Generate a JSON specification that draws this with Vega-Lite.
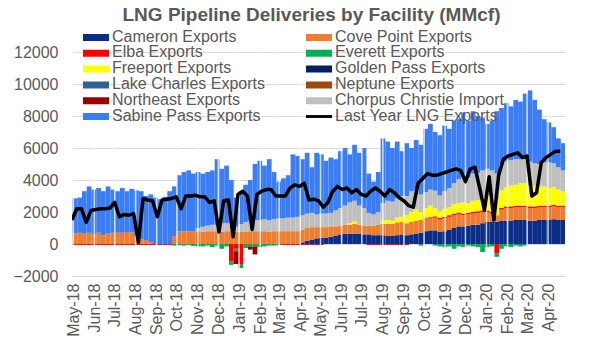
{
  "$schema": "https://vega.github.io/schema/vega-lite/v6.json",
  "autosize": "none",
  "width": 493,
  "height": 224,
  "padding": {"left": 72, "top": 52, "right": 31, "bottom": 74},
  "background": "white",
  "title": {"text": "LNG Pipeline Deliveries by Facility (MMcf)", "font": "Liberation Sans", "fontSize": 19, "fontWeight": "bold", "color": "#595959", "anchor": "middle", "dx": -7, "offset": 5.5},
  "config": {
    "view": {"stroke": null},
    "font": "Liberation Sans",
    "legend": {"rowPadding": -1.2},
    "axis": {"labelFont": "Liberation Sans", "labelFontSize": 16, "labelColor": "#595959", "ticks": false, "domain": false, "labelOverlap": false},
    "axisX": {"labelAngle": 270, "labelPadding": 7, "grid": false, "labelFlush": false, "labelOverlap": false},
    "axisY": {"grid": true, "gridColor": "#D9D9D9", "gridWidth": 1, "labelPadding": 14, "labelOverlap": false, "labelFlush": false}
  },
  "data": {"values": [
{"date":"2018-04-29","Cameron Exports":0,"Cove Point Exports":680,"Elba Exports":-60,"Everett Exports":0,"Freeport Exports":0,"Northeast Exports":0,"Chorpus Christie Import":0,"Sabine Pass Exports":2170,"Last Year LNG Exports":1500},
{"date":"2018-05-06","Cameron Exports":0,"Cove Point Exports":700,"Elba Exports":-60,"Everett Exports":0,"Freeport Exports":0,"Northeast Exports":0,"Chorpus Christie Import":0,"Sabine Pass Exports":2200,"Last Year LNG Exports":2200},
{"date":"2018-05-13","Cameron Exports":0,"Cove Point Exports":650,"Elba Exports":-60,"Everett Exports":0,"Freeport Exports":0,"Northeast Exports":0,"Chorpus Christie Import":0,"Sabine Pass Exports":2650,"Last Year LNG Exports":2200},
{"date":"2018-05-20","Cameron Exports":0,"Cove Point Exports":700,"Elba Exports":-60,"Everett Exports":0,"Freeport Exports":0,"Northeast Exports":0,"Chorpus Christie Import":0,"Sabine Pass Exports":2900,"Last Year LNG Exports":1350},
{"date":"2018-05-27","Cameron Exports":0,"Cove Point Exports":600,"Elba Exports":-60,"Everett Exports":0,"Freeport Exports":0,"Northeast Exports":0,"Chorpus Christie Import":0,"Sabine Pass Exports":2800,"Last Year LNG Exports":2100},
{"date":"2018-06-03","Cameron Exports":0,"Cove Point Exports":700,"Elba Exports":-60,"Everett Exports":0,"Freeport Exports":0,"Northeast Exports":0,"Chorpus Christie Import":0,"Sabine Pass Exports":2800,"Last Year LNG Exports":2150},
{"date":"2018-06-10","Cameron Exports":0,"Cove Point Exports":550,"Elba Exports":-60,"Everett Exports":0,"Freeport Exports":0,"Northeast Exports":0,"Chorpus Christie Import":0,"Sabine Pass Exports":2750,"Last Year LNG Exports":2200},
{"date":"2018-06-17","Cameron Exports":0,"Cove Point Exports":650,"Elba Exports":-60,"Everett Exports":0,"Freeport Exports":0,"Northeast Exports":0,"Chorpus Christie Import":0,"Sabine Pass Exports":2950,"Last Year LNG Exports":2200},
{"date":"2018-06-24","Cameron Exports":0,"Cove Point Exports":700,"Elba Exports":-60,"Everett Exports":0,"Freeport Exports":0,"Northeast Exports":0,"Chorpus Christie Import":0,"Sabine Pass Exports":2700,"Last Year LNG Exports":2250},
{"date":"2018-07-01","Cameron Exports":0,"Cove Point Exports":700,"Elba Exports":-60,"Everett Exports":0,"Freeport Exports":0,"Northeast Exports":0,"Chorpus Christie Import":0,"Sabine Pass Exports":2600,"Last Year LNG Exports":2600},
{"date":"2018-07-08","Cameron Exports":0,"Cove Point Exports":700,"Elba Exports":-60,"Everett Exports":0,"Freeport Exports":0,"Northeast Exports":0,"Chorpus Christie Import":0,"Sabine Pass Exports":2800,"Last Year LNG Exports":1700},
{"date":"2018-07-15","Cameron Exports":0,"Cove Point Exports":750,"Elba Exports":-60,"Everett Exports":0,"Freeport Exports":0,"Northeast Exports":0,"Chorpus Christie Import":0,"Sabine Pass Exports":2550,"Last Year LNG Exports":1850},
{"date":"2018-07-22","Cameron Exports":0,"Cove Point Exports":720,"Elba Exports":-60,"Everett Exports":0,"Freeport Exports":0,"Northeast Exports":0,"Chorpus Christie Import":0,"Sabine Pass Exports":2730,"Last Year LNG Exports":1800},
{"date":"2018-07-29","Cameron Exports":0,"Cove Point Exports":500,"Elba Exports":-60,"Everett Exports":0,"Freeport Exports":0,"Northeast Exports":0,"Chorpus Christie Import":0,"Sabine Pass Exports":2850,"Last Year LNG Exports":1900},
{"date":"2018-08-05","Cameron Exports":0,"Cove Point Exports":300,"Elba Exports":-60,"Everett Exports":0,"Freeport Exports":0,"Northeast Exports":0,"Chorpus Christie Import":0,"Sabine Pass Exports":3000,"Last Year LNG Exports":100},
{"date":"2018-08-12","Cameron Exports":0,"Cove Point Exports":250,"Elba Exports":-60,"Everett Exports":0,"Freeport Exports":0,"Northeast Exports":0,"Chorpus Christie Import":0,"Sabine Pass Exports":2750,"Last Year LNG Exports":2850},
{"date":"2018-08-19","Cameron Exports":0,"Cove Point Exports":100,"Elba Exports":-60,"Everett Exports":0,"Freeport Exports":0,"Northeast Exports":0,"Chorpus Christie Import":0,"Sabine Pass Exports":3000,"Last Year LNG Exports":2750},
{"date":"2018-08-26","Cameron Exports":0,"Cove Point Exports":0,"Elba Exports":-60,"Everett Exports":0,"Freeport Exports":0,"Northeast Exports":0,"Chorpus Christie Import":0,"Sabine Pass Exports":2900,"Last Year LNG Exports":2700},
{"date":"2018-09-02","Cameron Exports":0,"Cove Point Exports":0,"Elba Exports":-60,"Everett Exports":0,"Freeport Exports":0,"Northeast Exports":0,"Chorpus Christie Import":0,"Sabine Pass Exports":2800,"Last Year LNG Exports":1700},
{"date":"2018-09-09","Cameron Exports":0,"Cove Point Exports":0,"Elba Exports":-60,"Everett Exports":0,"Freeport Exports":0,"Northeast Exports":0,"Chorpus Christie Import":0,"Sabine Pass Exports":2950,"Last Year LNG Exports":2750},
{"date":"2018-09-16","Cameron Exports":0,"Cove Point Exports":0,"Elba Exports":-60,"Everett Exports":0,"Freeport Exports":0,"Northeast Exports":0,"Chorpus Christie Import":0,"Sabine Pass Exports":3300,"Last Year LNG Exports":2800},
{"date":"2018-09-23","Cameron Exports":0,"Cove Point Exports":500,"Elba Exports":0,"Everett Exports":-100,"Freeport Exports":0,"Northeast Exports":0,"Chorpus Christie Import":0,"Sabine Pass Exports":3100,"Last Year LNG Exports":2850},
{"date":"2018-09-30","Cameron Exports":0,"Cove Point Exports":780,"Elba Exports":0,"Everett Exports":-80,"Freeport Exports":0,"Northeast Exports":0,"Chorpus Christie Import":0,"Sabine Pass Exports":3520,"Last Year LNG Exports":2950},
{"date":"2018-10-07","Cameron Exports":0,"Cove Point Exports":800,"Elba Exports":0,"Everett Exports":-100,"Freeport Exports":0,"Northeast Exports":0,"Chorpus Christie Import":0,"Sabine Pass Exports":3700,"Last Year LNG Exports":2200},
{"date":"2018-10-14","Cameron Exports":0,"Cove Point Exports":800,"Elba Exports":0,"Everett Exports":-60,"Freeport Exports":0,"Northeast Exports":0,"Chorpus Christie Import":0,"Sabine Pass Exports":3800,"Last Year LNG Exports":3000},
{"date":"2018-10-21","Cameron Exports":0,"Cove Point Exports":800,"Elba Exports":0,"Everett Exports":-120,"Freeport Exports":0,"Northeast Exports":0,"Chorpus Christie Import":0,"Sabine Pass Exports":3600,"Last Year LNG Exports":3000},
{"date":"2018-10-28","Cameron Exports":0,"Cove Point Exports":800,"Elba Exports":0,"Everett Exports":-150,"Freeport Exports":0,"Northeast Exports":0,"Chorpus Christie Import":200,"Sabine Pass Exports":3500,"Last Year LNG Exports":3050},
{"date":"2018-11-04","Cameron Exports":0,"Cove Point Exports":780,"Elba Exports":0,"Everett Exports":-150,"Freeport Exports":0,"Northeast Exports":0,"Chorpus Christie Import":300,"Sabine Pass Exports":3320,"Last Year LNG Exports":2950},
{"date":"2018-11-11","Cameron Exports":0,"Cove Point Exports":800,"Elba Exports":0,"Everett Exports":-100,"Freeport Exports":0,"Northeast Exports":0,"Chorpus Christie Import":350,"Sabine Pass Exports":3350,"Last Year LNG Exports":2950},
{"date":"2018-11-18","Cameron Exports":0,"Cove Point Exports":800,"Elba Exports":0,"Everett Exports":-200,"Freeport Exports":0,"Northeast Exports":0,"Chorpus Christie Import":400,"Sabine Pass Exports":3400,"Last Year LNG Exports":2600},
{"date":"2018-11-25","Cameron Exports":0,"Cove Point Exports":800,"Elba Exports":0,"Everett Exports":-100,"Freeport Exports":0,"Northeast Exports":0,"Chorpus Christie Import":400,"Sabine Pass Exports":4100,"Last Year LNG Exports":2700},
{"date":"2018-12-02","Cameron Exports":0,"Cove Point Exports":780,"Elba Exports":0,"Everett Exports":-300,"Freeport Exports":0,"Northeast Exports":0,"Chorpus Christie Import":500,"Sabine Pass Exports":3420,"Last Year LNG Exports":750},
{"date":"2018-12-09","Cameron Exports":0,"Cove Point Exports":800,"Elba Exports":0,"Everett Exports":-150,"Freeport Exports":0,"Northeast Exports":0,"Chorpus Christie Import":500,"Sabine Pass Exports":3600,"Last Year LNG Exports":2700},
{"date":"2018-12-16","Cameron Exports":0,"Cove Point Exports":800,"Elba Exports":-1100,"Everett Exports":-200,"Freeport Exports":0,"Northeast Exports":0,"Chorpus Christie Import":600,"Sabine Pass Exports":2600,"Last Year LNG Exports":2750},
{"date":"2018-12-23","Cameron Exports":0,"Cove Point Exports":780,"Elba Exports":-300,"Everett Exports":-150,"Freeport Exports":0,"Northeast Exports":-800,"Chorpus Christie Import":300,"Sabine Pass Exports":1820,"Last Year LNG Exports":450},
{"date":"2018-12-30","Cameron Exports":0,"Cove Point Exports":750,"Elba Exports":-1300,"Everett Exports":-200,"Freeport Exports":0,"Northeast Exports":0,"Chorpus Christie Import":500,"Sabine Pass Exports":2050,"Last Year LNG Exports":3100},
{"date":"2019-01-06","Cameron Exports":0,"Cove Point Exports":780,"Elba Exports":0,"Everett Exports":-250,"Freeport Exports":0,"Northeast Exports":0,"Chorpus Christie Import":600,"Sabine Pass Exports":2320,"Last Year LNG Exports":3300},
{"date":"2019-01-13","Cameron Exports":0,"Cove Point Exports":800,"Elba Exports":0,"Everett Exports":-150,"Freeport Exports":0,"Northeast Exports":-200,"Chorpus Christie Import":650,"Sabine Pass Exports":2550,"Last Year LNG Exports":3000},
{"date":"2019-01-20","Cameron Exports":0,"Cove Point Exports":800,"Elba Exports":0,"Everett Exports":-150,"Freeport Exports":0,"Northeast Exports":-500,"Chorpus Christie Import":700,"Sabine Pass Exports":3500,"Last Year LNG Exports":900},
{"date":"2019-01-27","Cameron Exports":0,"Cove Point Exports":800,"Elba Exports":0,"Everett Exports":-200,"Freeport Exports":0,"Northeast Exports":0,"Chorpus Christie Import":700,"Sabine Pass Exports":3700,"Last Year LNG Exports":3100},
{"date":"2019-02-03","Cameron Exports":0,"Cove Point Exports":800,"Elba Exports":0,"Everett Exports":-150,"Freeport Exports":0,"Northeast Exports":0,"Chorpus Christie Import":750,"Sabine Pass Exports":3350,"Last Year LNG Exports":3300},
{"date":"2019-02-10","Cameron Exports":0,"Cove Point Exports":780,"Elba Exports":0,"Everett Exports":-100,"Freeport Exports":0,"Northeast Exports":0,"Chorpus Christie Import":700,"Sabine Pass Exports":3820,"Last Year LNG Exports":3400},
{"date":"2019-02-17","Cameron Exports":0,"Cove Point Exports":800,"Elba Exports":0,"Everett Exports":-100,"Freeport Exports":0,"Northeast Exports":0,"Chorpus Christie Import":750,"Sabine Pass Exports":2950,"Last Year LNG Exports":3400},
{"date":"2019-02-24","Cameron Exports":0,"Cove Point Exports":800,"Elba Exports":0,"Everett Exports":-80,"Freeport Exports":0,"Northeast Exports":0,"Chorpus Christie Import":800,"Sabine Pass Exports":2300,"Last Year LNG Exports":3000},
{"date":"2019-03-03","Cameron Exports":0,"Cove Point Exports":800,"Elba Exports":-60,"Everett Exports":0,"Freeport Exports":0,"Northeast Exports":0,"Chorpus Christie Import":800,"Sabine Pass Exports":2500,"Last Year LNG Exports":3000},
{"date":"2019-03-10","Cameron Exports":0,"Cove Point Exports":800,"Elba Exports":-60,"Everett Exports":0,"Freeport Exports":0,"Northeast Exports":0,"Chorpus Christie Import":850,"Sabine Pass Exports":2650,"Last Year LNG Exports":3000},
{"date":"2019-03-17","Cameron Exports":0,"Cove Point Exports":800,"Elba Exports":-60,"Everett Exports":0,"Freeport Exports":0,"Northeast Exports":0,"Chorpus Christie Import":850,"Sabine Pass Exports":3950,"Last Year LNG Exports":3500},
{"date":"2019-03-24","Cameron Exports":0,"Cove Point Exports":800,"Elba Exports":-60,"Everett Exports":0,"Freeport Exports":0,"Northeast Exports":0,"Chorpus Christie Import":900,"Sabine Pass Exports":3800,"Last Year LNG Exports":3700},
{"date":"2019-03-31","Cameron Exports":100,"Cove Point Exports":800,"Elba Exports":-60,"Everett Exports":0,"Freeport Exports":0,"Northeast Exports":0,"Chorpus Christie Import":900,"Sabine Pass Exports":3500,"Last Year LNG Exports":3600},
{"date":"2019-04-07","Cameron Exports":200,"Cove Point Exports":800,"Elba Exports":-60,"Everett Exports":0,"Freeport Exports":0,"Northeast Exports":0,"Chorpus Christie Import":900,"Sabine Pass Exports":3800,"Last Year LNG Exports":3800},
{"date":"2019-04-14","Cameron Exports":250,"Cove Point Exports":800,"Elba Exports":-60,"Everett Exports":0,"Freeport Exports":0,"Northeast Exports":0,"Chorpus Christie Import":900,"Sabine Pass Exports":2850,"Last Year LNG Exports":2750},
{"date":"2019-04-21","Cameron Exports":350,"Cove Point Exports":700,"Elba Exports":-60,"Everett Exports":0,"Freeport Exports":0,"Northeast Exports":0,"Chorpus Christie Import":800,"Sabine Pass Exports":3850,"Last Year LNG Exports":2800},
{"date":"2019-04-28","Cameron Exports":400,"Cove Point Exports":700,"Elba Exports":-60,"Everett Exports":0,"Freeport Exports":0,"Northeast Exports":0,"Chorpus Christie Import":800,"Sabine Pass Exports":3700,"Last Year LNG Exports":2700},
{"date":"2019-05-05","Cameron Exports":400,"Cove Point Exports":650,"Elba Exports":0,"Everett Exports":0,"Freeport Exports":0,"Northeast Exports":0,"Chorpus Christie Import":850,"Sabine Pass Exports":3300,"Last Year LNG Exports":2300},
{"date":"2019-05-12","Cameron Exports":450,"Cove Point Exports":650,"Elba Exports":0,"Everett Exports":0,"Freeport Exports":0,"Northeast Exports":0,"Chorpus Christie Import":850,"Sabine Pass Exports":3450,"Last Year LNG Exports":2600},
{"date":"2019-05-19","Cameron Exports":500,"Cove Point Exports":600,"Elba Exports":0,"Everett Exports":0,"Freeport Exports":0,"Northeast Exports":0,"Chorpus Christie Import":1000,"Sabine Pass Exports":3200,"Last Year LNG Exports":3300},
{"date":"2019-05-26","Cameron Exports":600,"Cove Point Exports":550,"Elba Exports":0,"Everett Exports":0,"Freeport Exports":0,"Northeast Exports":0,"Chorpus Christie Import":1100,"Sabine Pass Exports":3550,"Last Year LNG Exports":3600},
{"date":"2019-06-02","Cameron Exports":650,"Cove Point Exports":550,"Elba Exports":0,"Everett Exports":0,"Freeport Exports":0,"Northeast Exports":0,"Chorpus Christie Import":1200,"Sabine Pass Exports":3600,"Last Year LNG Exports":3400},
{"date":"2019-06-09","Cameron Exports":650,"Cove Point Exports":550,"Elba Exports":0,"Everett Exports":0,"Freeport Exports":100,"Northeast Exports":0,"Chorpus Christie Import":1300,"Sabine Pass Exports":3000,"Last Year LNG Exports":3500},
{"date":"2019-06-16","Cameron Exports":650,"Cove Point Exports":600,"Elba Exports":0,"Everett Exports":0,"Freeport Exports":150,"Northeast Exports":0,"Chorpus Christie Import":1300,"Sabine Pass Exports":3500,"Last Year LNG Exports":3200},
{"date":"2019-06-23","Cameron Exports":650,"Cove Point Exports":550,"Elba Exports":0,"Everett Exports":0,"Freeport Exports":0,"Northeast Exports":0,"Chorpus Christie Import":1200,"Sabine Pass Exports":3300,"Last Year LNG Exports":3400},
{"date":"2019-06-30","Cameron Exports":600,"Cove Point Exports":550,"Elba Exports":0,"Everett Exports":0,"Freeport Exports":0,"Northeast Exports":0,"Chorpus Christie Import":1100,"Sabine Pass Exports":3750,"Last Year LNG Exports":3100},
{"date":"2019-07-07","Cameron Exports":600,"Cove Point Exports":550,"Elba Exports":-60,"Everett Exports":0,"Freeport Exports":0,"Northeast Exports":0,"Chorpus Christie Import":800,"Sabine Pass Exports":2450,"Last Year LNG Exports":3000},
{"date":"2019-07-14","Cameron Exports":550,"Cove Point Exports":600,"Elba Exports":-60,"Everett Exports":0,"Freeport Exports":0,"Northeast Exports":0,"Chorpus Christie Import":700,"Sabine Pass Exports":2050,"Last Year LNG Exports":3300},
{"date":"2019-07-21","Cameron Exports":550,"Cove Point Exports":650,"Elba Exports":-60,"Everett Exports":0,"Freeport Exports":0,"Northeast Exports":0,"Chorpus Christie Import":800,"Sabine Pass Exports":2500,"Last Year LNG Exports":3500},
{"date":"2019-07-28","Cameron Exports":550,"Cove Point Exports":700,"Elba Exports":-60,"Everett Exports":0,"Freeport Exports":200,"Northeast Exports":0,"Chorpus Christie Import":1100,"Sabine Pass Exports":4050,"Last Year LNG Exports":3300},
{"date":"2019-08-04","Cameron Exports":500,"Cove Point Exports":750,"Elba Exports":-60,"Everett Exports":0,"Freeport Exports":250,"Northeast Exports":0,"Chorpus Christie Import":1200,"Sabine Pass Exports":3700,"Last Year LNG Exports":3000},
{"date":"2019-08-11","Cameron Exports":500,"Cove Point Exports":750,"Elba Exports":-60,"Everett Exports":0,"Freeport Exports":200,"Northeast Exports":0,"Chorpus Christie Import":1200,"Sabine Pass Exports":3350,"Last Year LNG Exports":3400},
{"date":"2019-08-18","Cameron Exports":550,"Cove Point Exports":800,"Elba Exports":-60,"Everett Exports":0,"Freeport Exports":300,"Northeast Exports":0,"Chorpus Christie Import":1200,"Sabine Pass Exports":3550,"Last Year LNG Exports":3200},
{"date":"2019-08-25","Cameron Exports":600,"Cove Point Exports":800,"Elba Exports":-60,"Everett Exports":0,"Freeport Exports":300,"Northeast Exports":0,"Chorpus Christie Import":1300,"Sabine Pass Exports":2800,"Last Year LNG Exports":2900},
{"date":"2019-09-01","Cameron Exports":550,"Cove Point Exports":750,"Elba Exports":-60,"Everett Exports":0,"Freeport Exports":500,"Northeast Exports":0,"Chorpus Christie Import":1200,"Sabine Pass Exports":3300,"Last Year LNG Exports":2700},
{"date":"2019-09-08","Cameron Exports":600,"Cove Point Exports":800,"Elba Exports":0,"Everett Exports":0,"Freeport Exports":600,"Northeast Exports":0,"Chorpus Christie Import":1300,"Sabine Pass Exports":2700,"Last Year LNG Exports":2400},
{"date":"2019-09-15","Cameron Exports":650,"Cove Point Exports":800,"Elba Exports":0,"Everett Exports":0,"Freeport Exports":700,"Northeast Exports":0,"Chorpus Christie Import":1200,"Sabine Pass Exports":3150,"Last Year LNG Exports":2300},
{"date":"2019-09-22","Cameron Exports":700,"Cove Point Exports":800,"Elba Exports":0,"Everett Exports":-100,"Freeport Exports":500,"Northeast Exports":0,"Chorpus Christie Import":1100,"Sabine Pass Exports":3100,"Last Year LNG Exports":3800},
{"date":"2019-09-29","Cameron Exports":800,"Cove Point Exports":800,"Elba Exports":50,"Everett Exports":0,"Freeport Exports":600,"Northeast Exports":0,"Chorpus Christie Import":1000,"Sabine Pass Exports":3950,"Last Year LNG Exports":4100},
{"date":"2019-10-06","Cameron Exports":850,"Cove Point Exports":800,"Elba Exports":50,"Everett Exports":0,"Freeport Exports":700,"Northeast Exports":0,"Chorpus Christie Import":1000,"Sabine Pass Exports":4100,"Last Year LNG Exports":4400},
{"date":"2019-10-13","Cameron Exports":850,"Cove Point Exports":800,"Elba Exports":80,"Everett Exports":-100,"Freeport Exports":500,"Northeast Exports":0,"Chorpus Christie Import":1100,"Sabine Pass Exports":3670,"Last Year LNG Exports":4300},
{"date":"2019-10-20","Cameron Exports":750,"Cove Point Exports":800,"Elba Exports":80,"Everett Exports":-150,"Freeport Exports":400,"Northeast Exports":0,"Chorpus Christie Import":1000,"Sabine Pass Exports":3770,"Last Year LNG Exports":4300},
{"date":"2019-10-27","Cameron Exports":800,"Cove Point Exports":800,"Elba Exports":100,"Everett Exports":-200,"Freeport Exports":500,"Northeast Exports":0,"Chorpus Christie Import":1100,"Sabine Pass Exports":4100,"Last Year LNG Exports":4400},
{"date":"2019-11-03","Cameron Exports":900,"Cove Point Exports":800,"Elba Exports":100,"Everett Exports":-150,"Freeport Exports":500,"Northeast Exports":0,"Chorpus Christie Import":1200,"Sabine Pass Exports":3700,"Last Year LNG Exports":4500},
{"date":"2019-11-10","Cameron Exports":1000,"Cove Point Exports":800,"Elba Exports":100,"Everett Exports":-300,"Freeport Exports":600,"Northeast Exports":0,"Chorpus Christie Import":1300,"Sabine Pass Exports":3900,"Last Year LNG Exports":4600},
{"date":"2019-11-17","Cameron Exports":1100,"Cove Point Exports":750,"Elba Exports":100,"Everett Exports":-150,"Freeport Exports":600,"Northeast Exports":0,"Chorpus Christie Import":1500,"Sabine Pass Exports":3750,"Last Year LNG Exports":4700},
{"date":"2019-11-24","Cameron Exports":1100,"Cove Point Exports":700,"Elba Exports":100,"Everett Exports":-200,"Freeport Exports":700,"Northeast Exports":0,"Chorpus Christie Import":1600,"Sabine Pass Exports":4000,"Last Year LNG Exports":4600},
{"date":"2019-12-01","Cameron Exports":1150,"Cove Point Exports":700,"Elba Exports":100,"Everett Exports":-100,"Freeport Exports":600,"Northeast Exports":0,"Chorpus Christie Import":1600,"Sabine Pass Exports":3550,"Last Year LNG Exports":3900},
{"date":"2019-12-08","Cameron Exports":1200,"Cove Point Exports":700,"Elba Exports":100,"Everett Exports":-150,"Freeport Exports":700,"Northeast Exports":0,"Chorpus Christie Import":1700,"Sabine Pass Exports":3900,"Last Year LNG Exports":4700},
{"date":"2019-12-15","Cameron Exports":1200,"Cove Point Exports":750,"Elba Exports":100,"Everett Exports":-200,"Freeport Exports":700,"Northeast Exports":0,"Chorpus Christie Import":1700,"Sabine Pass Exports":3550,"Last Year LNG Exports":4800},
{"date":"2019-12-22","Cameron Exports":1300,"Cove Point Exports":700,"Elba Exports":100,"Everett Exports":-500,"Freeport Exports":800,"Northeast Exports":0,"Chorpus Christie Import":1700,"Sabine Pass Exports":3300,"Last Year LNG Exports":3500},
{"date":"2019-12-29","Cameron Exports":1400,"Cove Point Exports":600,"Elba Exports":100,"Everett Exports":-200,"Freeport Exports":900,"Northeast Exports":0,"Chorpus Christie Import":1700,"Sabine Pass Exports":2800,"Last Year LNG Exports":2100},
{"date":"2020-01-05","Cameron Exports":1400,"Cove Point Exports":500,"Elba Exports":100,"Everett Exports":-150,"Freeport Exports":1000,"Northeast Exports":0,"Chorpus Christie Import":1600,"Sabine Pass Exports":3100,"Last Year LNG Exports":4200},
{"date":"2020-01-12","Cameron Exports":1400,"Cove Point Exports":400,"Elba Exports":-600,"Everett Exports":-200,"Freeport Exports":1000,"Northeast Exports":0,"Chorpus Christie Import":1600,"Sabine Pass Exports":3900,"Last Year LNG Exports":1500},
{"date":"2020-01-19","Cameron Exports":1450,"Cove Point Exports":700,"Elba Exports":100,"Everett Exports":-300,"Freeport Exports":1100,"Northeast Exports":0,"Chorpus Christie Import":1600,"Sabine Pass Exports":3550,"Last Year LNG Exports":4300},
{"date":"2020-01-26","Cameron Exports":1450,"Cove Point Exports":800,"Elba Exports":100,"Everett Exports":-150,"Freeport Exports":1200,"Northeast Exports":0,"Chorpus Christie Import":1600,"Sabine Pass Exports":3650,"Last Year LNG Exports":5300},
{"date":"2020-02-02","Cameron Exports":1450,"Cove Point Exports":800,"Elba Exports":100,"Everett Exports":-200,"Freeport Exports":1300,"Northeast Exports":0,"Chorpus Christie Import":1600,"Sabine Pass Exports":3350,"Last Year LNG Exports":5500},
{"date":"2020-02-09","Cameron Exports":1500,"Cove Point Exports":800,"Elba Exports":100,"Everett Exports":-100,"Freeport Exports":1300,"Northeast Exports":0,"Chorpus Christie Import":1600,"Sabine Pass Exports":3700,"Last Year LNG Exports":5600},
{"date":"2020-02-16","Cameron Exports":1500,"Cove Point Exports":800,"Elba Exports":100,"Everett Exports":-150,"Freeport Exports":1400,"Northeast Exports":0,"Chorpus Christie Import":1500,"Sabine Pass Exports":3600,"Last Year LNG Exports":5700},
{"date":"2020-02-23","Cameron Exports":1500,"Cove Point Exports":800,"Elba Exports":100,"Everett Exports":-100,"Freeport Exports":1400,"Northeast Exports":0,"Chorpus Christie Import":1500,"Sabine Pass Exports":4100,"Last Year LNG Exports":5400},
{"date":"2020-03-01","Cameron Exports":1450,"Cove Point Exports":800,"Elba Exports":100,"Everett Exports":0,"Freeport Exports":1300,"Northeast Exports":0,"Chorpus Christie Import":1500,"Sabine Pass Exports":4450,"Last Year LNG Exports":5500},
{"date":"2020-03-08","Cameron Exports":1450,"Cove Point Exports":800,"Elba Exports":100,"Everett Exports":0,"Freeport Exports":1300,"Northeast Exports":0,"Chorpus Christie Import":1400,"Sabine Pass Exports":3950,"Last Year LNG Exports":3000},
{"date":"2020-03-15","Cameron Exports":1500,"Cove Point Exports":800,"Elba Exports":100,"Everett Exports":0,"Freeport Exports":1200,"Northeast Exports":0,"Chorpus Christie Import":1400,"Sabine Pass Exports":3400,"Last Year LNG Exports":3200},
{"date":"2020-03-22","Cameron Exports":1500,"Cove Point Exports":800,"Elba Exports":100,"Everett Exports":0,"Freeport Exports":1200,"Northeast Exports":0,"Chorpus Christie Import":1500,"Sabine Pass Exports":2700,"Last Year LNG Exports":5100},
{"date":"2020-03-29","Cameron Exports":1500,"Cove Point Exports":800,"Elba Exports":100,"Everett Exports":0,"Freeport Exports":1100,"Northeast Exports":0,"Chorpus Christie Import":1600,"Sabine Pass Exports":2500,"Last Year LNG Exports":5400},
{"date":"2020-04-05","Cameron Exports":1550,"Cove Point Exports":800,"Elba Exports":100,"Everett Exports":0,"Freeport Exports":1100,"Northeast Exports":0,"Chorpus Christie Import":1500,"Sabine Pass Exports":2250,"Last Year LNG Exports":5600},
{"date":"2020-04-12","Cameron Exports":1500,"Cove Point Exports":800,"Elba Exports":100,"Everett Exports":0,"Freeport Exports":1000,"Northeast Exports":0,"Chorpus Christie Import":1400,"Sabine Pass Exports":1800,"Last Year LNG Exports":5800},
{"date":"2020-04-19","Cameron Exports":1500,"Cove Point Exports":800,"Elba Exports":100,"Everett Exports":0,"Freeport Exports":900,"Northeast Exports":0,"Chorpus Christie Import":1300,"Sabine Pass Exports":1700,"Last Year LNG Exports":5800}
  ]},
  "layer": [
    {
      "transform": [
        {"fold": ["Cameron Exports","Cove Point Exports","Elba Exports","Everett Exports","Freeport Exports","Northeast Exports","Chorpus Christie Import","Sabine Pass Exports"], "as": ["series","value"]},
        {"window": [{"op": "row_number", "as": "idx"}], "groupby": ["date"]}
      ],
      "mark": {"type": "bar", "clip": true, "strokeWidth": 0, "binSpacing": 0},
      "encoding": {
        "x": {"field": "date", "timeUnit": "utcyearweek", "type": "temporal", "title": null,
          "scale": {"type": "utc", "domain": [{"year":2018,"month":4,"date":29,"utc":true},{"year":2020,"month":4,"date":26,"utc":true}]},
          "axis": {"title": null, "format": "%b-%y", "labelAngle": 270, "labelPadding": 7, "grid": false, "labelOverlap": false, "labelFlush": false, "tickCount": 40,
            "values": [{"year":2018,"month":5,"date":1,"utc":true},{"year":2018,"month":6,"date":1,"utc":true},{"year":2018,"month":7,"date":1,"utc":true},{"year":2018,"month":8,"date":1,"utc":true},{"year":2018,"month":9,"date":1,"utc":true},{"year":2018,"month":10,"date":1,"utc":true},{"year":2018,"month":11,"date":1,"utc":true},{"year":2018,"month":12,"date":1,"utc":true},{"year":2019,"month":1,"date":1,"utc":true},{"year":2019,"month":2,"date":1,"utc":true},{"year":2019,"month":3,"date":1,"utc":true},{"year":2019,"month":4,"date":1,"utc":true},{"year":2019,"month":5,"date":1,"utc":true},{"year":2019,"month":6,"date":1,"utc":true},{"year":2019,"month":7,"date":1,"utc":true},{"year":2019,"month":8,"date":1,"utc":true},{"year":2019,"month":9,"date":1,"utc":true},{"year":2019,"month":10,"date":1,"utc":true},{"year":2019,"month":11,"date":1,"utc":true},{"year":2019,"month":12,"date":1,"utc":true},{"year":2020,"month":1,"date":1,"utc":true},{"year":2020,"month":2,"date":1,"utc":true},{"year":2020,"month":3,"date":1,"utc":true},{"year":2020,"month":4,"date":1,"utc":true}]}},
        "y": {"field": "value", "type": "quantitative", "stack": "zero", "title": null,
          "scale": {"domain": [-2000, 12000], "nice": false, "zero": false},
          "axis": {"title": null, "values": [-2000,0,2000,4000,6000,8000,10000,12000], "tickCount": 20, "format": "d", "grid": true, "gridColor": "#D9D9D9", "gridWidth": 1, "labelPadding": 14, "labelOverlap": false, "labelFlush": false}},
        "order": {"field": "idx", "type": "quantitative"},
        "color": {"field": "series", "type": "nominal",
          "scale": {
            "domain": ["Cameron Exports","Elba Exports","Freeport Exports","Lake Charles Exports","Northeast Exports","Sabine Pass Exports","Cove Point Exports","Everett Exports","Golden Pass Exports","Neptune Exports","Chorpus Christie Import","Last Year LNG Exports"],
            "range": ["#0A2D87","#FF0000","#FFFF00","#2F6096","#990000","#3B7DF4","#ED7D31","#00B050","#002060","#9E4A0E","#BFBFBF","#000000"]
          },
          "legend": {"title": null, "orient": "none", "legendX": 11, "legendY": -22, "columns": 2, "gridAlign": "each", "columnPadding": 41, "padding": 0, "clipHeight": 15,
            "symbolSize": 676, "labelOffset": 3, "labelFont": "Liberation Sans", "labelFontSize": 16, "labelColor": "#595959", "labelLimit": 300,
            "encode": {
              "symbols": {"update": {
                "shape": {"signal": "datum.value === 'Last Year LNG Exports' ? 'M-1,-0.11H1V0.11H-1Z' : 'M-1,-0.27H1V0.27H-1Z'"},
                "fill": {"scale": "color", "field": "value"},
                "strokeWidth": {"value": 0},
                "opacity": {"value": 1}
              }},
              "labels": {"update": {"dy": {"value": -1}}}
            }
          }
        }
      }
    },
    {
      "data": {"values": [
        {"month":"2018-05-01"},{"month":"2018-06-01"},{"month":"2018-07-01"},{"month":"2018-08-01"},{"month":"2018-09-01"},{"month":"2018-10-01"},{"month":"2018-11-01"},{"month":"2018-12-01"},
        {"month":"2019-01-01"},{"month":"2019-02-01"},{"month":"2019-03-01"},{"month":"2019-04-01"},{"month":"2019-05-01"},{"month":"2019-06-01"},{"month":"2019-07-01"},{"month":"2019-08-01"},
        {"month":"2019-09-01"},{"month":"2019-10-01"},{"month":"2019-11-01"},{"month":"2019-12-01"},{"month":"2020-01-01"},{"month":"2020-02-01"},{"month":"2020-03-01"},{"month":"2020-04-01"}
      ]},
      "mark": {"type": "rule", "color": "white", "strokeWidth": 1.5, "opacity": 0.75},
      "encoding": {
        "x": {"field": "month", "type": "temporal", "title": null, "scale": {"type": "utc"},
          "axis": {"title": null, "format": "%b-%y", "labelAngle": 270, "labelPadding": 7, "grid": false, "labelOverlap": false, "labelFlush": false, "tickCount": 40}}
      }
    },
    {
      "mark": {"type": "line", "strokeWidth": 3.5, "strokeJoin": "round", "clip": true},
      "encoding": {
        "x": {"field": "date", "type": "temporal", "title": null, "scale": {"type": "utc"},
          "axis": {"title": null, "format": "%b-%y", "labelAngle": 270, "labelPadding": 7, "grid": false, "labelOverlap": false, "labelFlush": false, "tickCount": 40}},
        "y": {"field": "Last Year LNG Exports", "type": "quantitative", "title": null,
          "axis": {"title": null, "format": "d", "tickCount": 20, "grid": true, "gridColor": "#D9D9D9", "gridWidth": 1, "labelPadding": 14, "labelOverlap": false, "labelFlush": false}},
        "color": {"datum": "Last Year LNG Exports", "legend": null}
      }
    }
  ]
}
